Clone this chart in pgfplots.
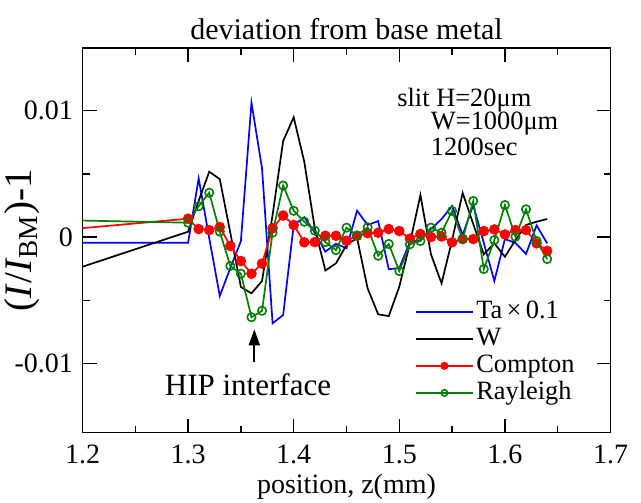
\documentclass[border=0pt]{standalone}
\usepackage{fontspec}
\setmainfont{Liberation Serif}
\usepackage{pgfplots}
\pgfplotsset{compat=1.18}
\usetikzlibrary{arrows.meta}
\definecolor{taBlue}{RGB}{0,0,255}
\definecolor{compRed}{RGB}{255,0,0}
\definecolor{rayGreen}{RGB}{0,128,0}
\newcommand{\ticksz}{\fontsize{14bp}{16bp}\selectfont}
\newcommand{\notesz}{\fontsize{13.2bp}{15bp}\selectfont}

\begin{document}
\begin{tikzpicture}
\begin{axis}[
    name=ax,
    scale only axis,
    width=264bp, height=192.3bp,
    xmin=1.2, xmax=1.7, ymin=-0.01546, ymax=0.01494,
    xtick={1.2,1.3,1.4,1.5,1.6,1.7},
    xticklabels={1.2,1.3,1.4,1.5,1.6,1.7},
    ytick={-0.01,0,0.01},
    yticklabels={-0.01,0,0.01},
    scaled y ticks=false,
    minor x tick num=1, minor y tick num=1,
    tick align=inside, tick pos=both,
    major tick length=7bp, minor tick length=3.5bp,
    axis line style={line width=0.75bp},
    every tick/.style={line width=0.75bp, black},
    tick label style={font=\ticksz},
    xticklabel style={anchor=base, yshift=-15.5bp},
    yticklabel style={anchor=east, xshift=-1.3bp},
    every axis title shift=0pt,
    title={deviation from base metal},
    title style={at={(axis description cs:0.5,1)}, anchor=base, yshift=4bp, font=\fontsize{15bp}{17bp}\selectfont},
    xlabel={position, z(mm)},
    xlabel style={at={(axis description cs:0.5,0)}, anchor=base, yshift=-30.5bp, font=\ticksz},
    ylabel={(\textit{I}/\textit{I}\textsubscript{BM})-1},
    ylabel style={at={(axis description cs:-0.1146,0.5)}, anchor=center, font=\fontsize{19.5bp}{21bp}\selectfont},
    legend style={at={(axis description cs:0.63,0.35)}, anchor=north west, draw=none, fill=none,
        font=\notesz, row sep=0pt, inner sep=0pt,
        nodes={inner sep=1bp, text height=9bp, text depth=2.5bp}},
    legend cell align=left,
    legend image code/.code={\draw[mark repeat=2,mark phase=2,mark size=1.6bp] plot coordinates {(0bp,0bp)(14bp,0bp)(28.5bp,0bp)};},
]
% Ta x 0.1
\addplot[color=taBlue, line width=0.85bp, mark=none] coordinates {
(1.10,-0.00045)(1.30,-0.00045)(1.31,0.00464)(1.32,-0.00008)(1.33,-0.00466)(1.34,-0.00245)
(1.35,-0.00032)(1.36,0.01062)(1.37,0.00543)(1.38,-0.00682)(1.39,-0.00617)(1.40,0.00095)
(1.41,0.00157)(1.42,0.00034)(1.43,-0.00116)(1.44,-0.00053)(1.45,-0.00089)(1.46,0.00208)
(1.47,0.00095)(1.48,0.00126)(1.49,-0.00255)(1.50,-0.00245)(1.51,-0.00040)(1.52,-0.00024)
(1.53,0.00063)(1.54,0.00142)(1.55,0.00245)(1.56,0.00016)(1.57,0.00253)(1.58,-0.00047)
(1.59,-0.00348)(1.60,-0.00016)(1.61,-0.00047)(1.62,-0.00134)(1.63,0.00092)(1.64,-0.00050)
};
\addlegendentry{Ta\,×\,0.1}
% W
\addplot[color=black, line width=0.85bp, mark=none] coordinates {
(1.10,-0.00512)(1.30,0.00042)(1.31,0.00285)(1.32,0.00516)(1.33,0.00458)(1.34,0.00032)
(1.35,-0.00395)(1.36,-0.00445)(1.37,-0.00348)(1.38,0.00174)(1.39,0.00759)(1.40,0.00946)
(1.41,0.00595)(1.42,0.00069)(1.43,-0.00265)(1.44,-0.00208)(1.45,-0.00063)(1.46,-0.00008)
(1.47,-0.00406)(1.48,-0.00611)(1.49,-0.00625)(1.50,-0.00393)(1.51,-0.00050)(1.52,0.00332)
(1.53,-0.00137)(1.54,-0.00366)(1.55,-0.00024)(1.56,0.00348)(1.57,0.00103)(1.58,-0.00137)
(1.59,-0.00050)(1.60,-0.00156)(1.61,-0.00024)(1.62,0.00095)(1.63,0.00121)(1.64,0.00142)
};
\addlegendentry{W}
% Compton
\addplot[color=compRed, line width=0.85bp, mark=*, mark size=2.2bp, mark options={fill=compRed}] coordinates {
(1.10,-0.00005)(1.30,0.00145)(1.31,0.00063)(1.32,0.00055)(1.33,0.00079)(1.34,-0.00071)
(1.35,-0.00190)(1.36,-0.00290)(1.37,-0.00210)(1.38,0.00069)(1.39,0.00170)(1.40,0.00095)
(1.41,-0.00042)(1.42,-0.00040)(1.43,0.00010)(1.44,0.00010)(1.45,-0.00030)(1.46,0.00010)
(1.47,0.00030)(1.48,0.00034)(1.49,0.00063)(1.50,0.00047)(1.51,-0.00013)(1.52,0.00024)
(1.53,0.00000)(1.54,0.00004)(1.55,-0.00042)(1.56,-0.00016)(1.57,-0.00016)(1.58,0.00047)
(1.59,0.00060)(1.60,0.00020)(1.61,0.00055)(1.62,0.00055)(1.63,-0.00050)(1.64,-0.00110)
};
\addlegendentry{Compton}
% Rayleigh
\addplot[color=rayGreen, line width=0.85bp, mark=o, mark size=2.1bp, mark options={fill=white, line width=0.8bp}] coordinates {
(1.10,0.00147)(1.30,0.00113)(1.31,0.00243)(1.32,0.00350)(1.33,0.00043)(1.34,-0.00229)
(1.35,-0.00290)(1.36,-0.00634)(1.37,-0.00583)(1.38,0.00034)(1.39,0.00407)(1.40,0.00207)
(1.41,0.00121)(1.42,0.00050)(1.43,-0.00040)(1.44,-0.00104)(1.45,0.00074)(1.46,0.00012)
(1.47,0.00077)(1.48,-0.00148)(1.49,-0.00055)(1.50,-0.00269)(1.51,-0.00058)(1.52,-0.00032)
(1.53,0.00074)(1.54,0.00034)(1.55,0.00206)(1.56,-0.00016)(1.57,0.00285)(1.58,-0.00253)
(1.59,-0.00024)(1.60,0.00253)(1.61,0.00002)(1.62,0.00219)(1.63,-0.00032)(1.64,-0.00174)
};
\addlegendentry{Rayleigh}

\node[anchor=west, font=\notesz, inner sep=0pt] at (axis cs:1.4978,0.01083) {slit H=20μm};
\node[anchor=west, font=\notesz, inner sep=0pt] at (axis cs:1.5296,0.00893) {W=1000μm};
\node[anchor=west, font=\notesz, inner sep=0pt] at (axis cs:1.5296,0.00713) {1200sec};
\draw[-{Triangle[length=8bp,width=5.5bp]}, line width=0.9bp] (axis cs:1.3627,-0.0099) -- (axis cs:1.3627,-0.0073);
\node[font=\fontsize{15.5bp}{17bp}\selectfont, inner sep=0pt] at (axis cs:1.3567,-0.0117) {HIP interface};
\end{axis}
\pgfresetboundingbox
\path[use as bounding box] ([xshift=-41.25bp,yshift=-34.7bp]ax.south west) rectangle ([xshift=15.25bp,yshift=24bp]ax.north east);
\end{tikzpicture}
\end{document}
